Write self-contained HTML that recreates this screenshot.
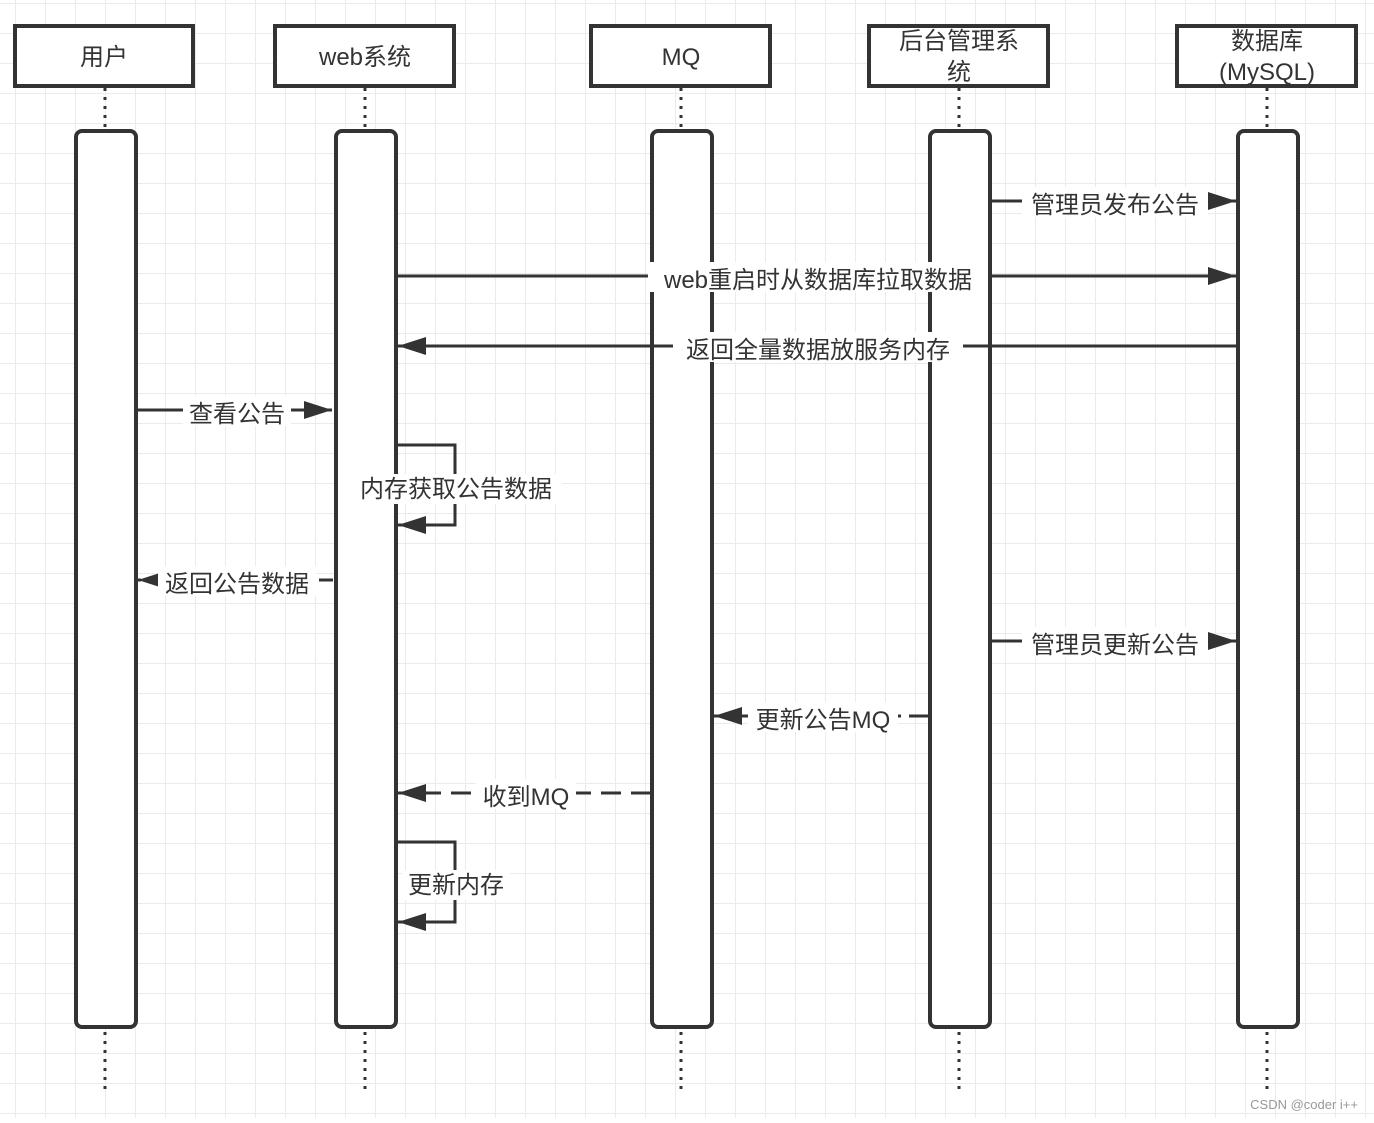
<!DOCTYPE html>
<html><head><meta charset="utf-8"><style>
html,body{margin:0;padding:0;background:#fff}
svg text{font-family:"Liberation Sans","Noto Sans CJK SC",sans-serif;fill:#333;font-size:24px}
</style></head><body>
<svg width="1374" height="1118" viewBox="0 0 1374 1118" xmlns="http://www.w3.org/2000/svg">
<defs>
<pattern id="g" width="30" height="30" patternUnits="userSpaceOnUse" x="15" y="3">
<path d="M0 0H30M0 0V30" stroke="#ebebeb" stroke-width="2" fill="none"/>
</pattern>
<marker id="a" markerWidth="12" markerHeight="12" refX="10" refY="6" orient="auto" markerUnits="userSpaceOnUse" viewBox="0 0 12 12">
<path d="M0 0L12 6L0 12z" fill="#333"/>
</marker>
<marker id="b" markerWidth="30" markerHeight="20" refX="28" refY="10" orient="auto" markerUnits="userSpaceOnUse">
<path d="M0 1L28 10L0 19z" fill="#333"/>
</marker>
</defs>
<rect width="1374" height="1118" fill="url(#g)"/>
<g stroke="#333" stroke-width="3" stroke-dasharray="3 6" fill="none">
<path d="M105 88V130M365 88V130M681 88V130M959 88V130M1267 88V130"/>
<path d="M105 1032V1092M365 1032V1092M681 1032V1092M959 1032V1092M1267 1032V1092"/>
</g>
<g fill="#fff" stroke="#333" stroke-width="4">
<rect x="15" y="26" width="178" height="60"/>
<rect x="275" y="26" width="179" height="60"/>
<rect x="591" y="26" width="179" height="60"/>
<rect x="869" y="26" width="179" height="60"/>
<rect x="1177" y="26" width="179" height="60"/>
<rect x="76" y="131" width="60" height="896" rx="6"/>
<rect x="336" y="131" width="60" height="896" rx="6"/>
<rect x="652" y="131" width="60" height="896" rx="6"/>
<rect x="930" y="131" width="60" height="896" rx="6"/>
<rect x="1238" y="131" width="60" height="896" rx="6"/>
</g>
<g text-anchor="middle">
<text x="104" y="65">用户</text>
<text x="365" y="65">web系统</text>
<text x="681" y="65">MQ</text>
<text x="959" y="49">后台管理系</text>
<text x="959" y="80">统</text>
<text x="1267" y="49">数据库</text>
<text x="1267" y="80">(MySQL)</text>
</g>
<g stroke="#333" stroke-width="3" fill="none" marker-end="url(#b)">
<path d="M991 201H1236"/>
<path d="M397 276H1236"/>
<path d="M1237 346H398"/>
<path d="M137 410H332"/>
<path d="M397 445H455V525H398"/>
<path d="M333 580H138" stroke-dasharray="14 10"/>
<path d="M991 641H1236"/>
<path d="M929 716H714" stroke-dasharray="20 8"/>
<path d="M651 793H398" stroke-dasharray="20 10"/>
<path d="M397 842H455V922H398"/>
</g>
<g text-anchor="middle">
<g fill="#fff">
<rect x="1022" y="187" width="186" height="30"/>
<rect x="648" y="262" width="340" height="30"/>
<rect x="673" y="332" width="290" height="30"/>
<rect x="183" y="396" width="108" height="30"/>
<rect x="350" y="474" width="212" height="30"/>
<rect x="158" y="566" width="158" height="30"/>
<rect x="1022" y="627" width="186" height="30"/>
<rect x="748" y="702" width="150" height="30"/>
<rect x="476" y="779" width="100" height="30"/>
<rect x="402" y="870" width="108" height="30"/>
</g>
<text x="1115" y="213">管理员发布公告</text>
<text x="818" y="288">web重启时从数据库拉取数据</text>
<text x="818" y="358">返回全量数据放服务内存</text>
<text x="237" y="422">查看公告</text>
<text x="456" y="497">内存获取公告数据</text>
<text x="237" y="592">返回公告数据</text>
<text x="1115" y="653">管理员更新公告</text>
<text x="823" y="728">更新公告MQ</text>
<text x="526" y="805">收到MQ</text>
<text x="456" y="893">更新内存</text>
</g>
<text x="1358" y="1109" text-anchor="end" style="font-size:13px;fill:#999">CSDN @coder i++</text>
</svg>
</body></html>
